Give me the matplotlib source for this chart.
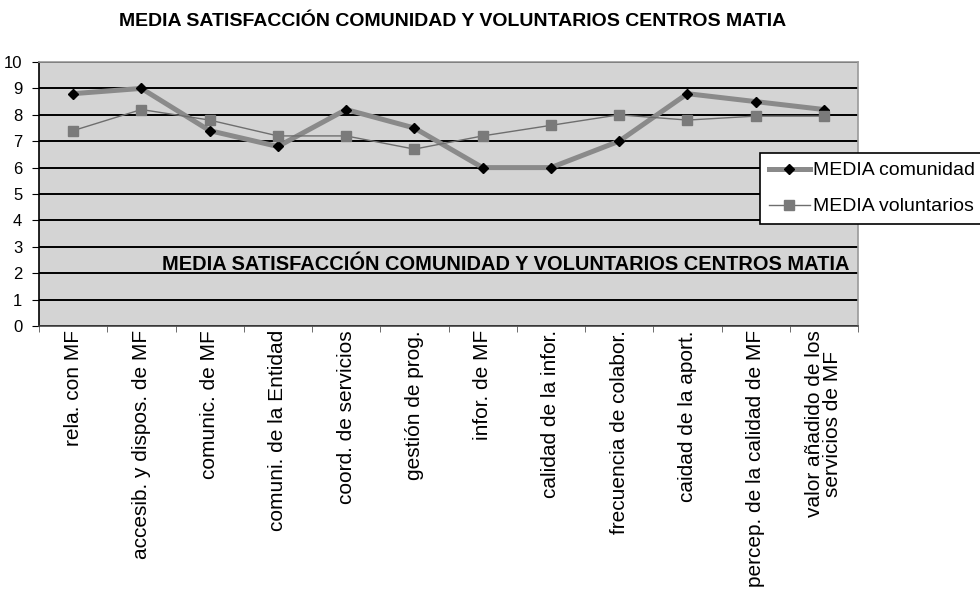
import numpy as np
import matplotlib
matplotlib.use("Agg")
import matplotlib.pyplot as plt
import matplotlib.transforms as mtransforms
from matplotlib import font_manager

categorias = [
    "rela. con MF",
    "accesib. y dispos. de MF",
    "comunic. de MF",
    "comuni. de la Entidad",
    "coord. de servicios",
    "gestión de prog.",
    "infor. de MF",
    "calidad de la infor.",
    "frecuencia de colabor.",
    "caidad de la aport.",
    "percep. de la calidad de MF",
    "valor añadido de los\nservicios de MF",
]
media_comunidad = [8.8, 9.0, 7.4, 6.8, 8.2, 7.5, 6.0, 6.0, 7.0, 8.8, 8.5, 8.2]
media_voluntarios = [7.4, 8.2, 7.8, 7.2, 7.2, 6.7, 7.2, 7.6, 8.0, 7.8, 7.95, 7.95]
yticks = list(range(0, 11))
titulo = "MEDIA SATISFACCIÓN COMUNIDAD Y VOLUNTARIOS CENTROS MATIA"

# fuente estrecha para los titulos si existe
names = {f.name for f in font_manager.fontManager.ttflist}
narrow = "Liberation Sans Narrow" if "Liberation Sans Narrow" in names else "Liberation Sans"
plt.rcParams["font.family"] = ["Liberation Sans", "DejaVu Sans"]

fig = plt.figure(figsize=(9.8, 5.93), dpi=100)
ax = fig.add_axes([39 / 980, 1 - 326 / 593, (858 - 39) / 980, (326 - 62) / 593])
ax.set_facecolor("#d4d4d4")

x = np.arange(len(categorias))
ax.plot(x, media_comunidad, color="#8a8a8a", lw=3.6, marker="D", ms=4.8,
        mfc="black", mec="black", label="MEDIA comunidad", zorder=3)
ax.plot(x, media_voluntarios, color="#6e6e6e", lw=1.0, marker="s", ms=6.5,
        mfc="#7a7a7a", mec="#7a7a7a", label="MEDIA voluntarios", zorder=4)

ax.set_xlim(-0.5, len(categorias) - 0.5)
ax.set_ylim(0, 10)
ax.set_yticks(yticks)
ax.set_yticklabels([str(v) for v in yticks], fontsize=12)
ax.yaxis.grid(True, color="black", lw=1.4)
ax.set_axisbelow(True)

ax.set_xticks(x)
ax.set_xticklabels(categorias, rotation=90, fontsize=15, va="top", ha="center",
                   linespacing=0.95)
ax.set_xticks(np.arange(len(categorias) + 1) - 0.5, minor=True)
ax.tick_params(axis="x", which="major", length=0, pad=3)
ax.tick_params(axis="x", which="minor", length=4, color="#555555")
ax.tick_params(axis="y", length=5, pad=7, color="black")

ax.spines["top"].set_color("#9a9a9a")
ax.spines["right"].set_color("#9a9a9a")
ax.spines["left"].set_color("black")
ax.spines["bottom"].set_color("#444444")
for s in ax.spines.values():
    s.set_linewidth(1.2)

# texto dentro del grafico
trans = mtransforms.blended_transform_factory(ax.transAxes, ax.transData)
ax.text(0.570, 2.12, titulo, transform=trans,
        ha="center", va="baseline", fontsize=14.4, fontweight="bold",
        family=[narrow, "DejaVu Sans"], zorder=5)

fig.text(453 / 980, 1 - 21 / 593, titulo, ha="center", va="center",
         fontsize=14, fontweight="bold", family=[narrow, "DejaVu Sans"])

# leyenda (el marco queda cortado por la derecha como en el original)
leg = fig.legend(loc="upper left", bbox_to_anchor=(760 / 980, 1 - 153 / 593),
                 fontsize=14, frameon=True, fancybox=False, framealpha=1,
                 edgecolor="black", borderaxespad=0, borderpad=0.45,
                 handlelength=2.1, handletextpad=0.15, labelspacing=0.95)
leg.get_frame().set_linewidth(1.2)

fig.savefig("out.png", dpi=100)
